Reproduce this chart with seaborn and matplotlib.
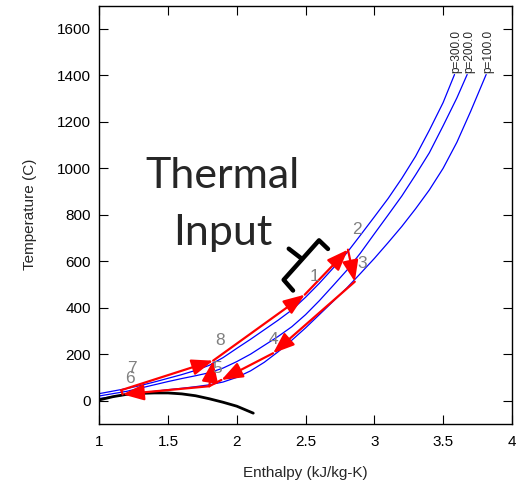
import matplotlib
matplotlib.use("Agg")
import matplotlib.pyplot as plt
import pandas as pd
import seaborn as sns

# isobars (x axis is labelled "Enthalpy" in the original)
s_p300 = [1.0, 1.1, 1.2, 1.3, 1.4, 1.5, 1.6, 1.7, 1.8, 1.9, 2.0, 2.1, 2.2, 2.3, 2.4,
          2.5, 2.6, 2.7, 2.8, 2.9, 3.0, 3.1, 3.2, 3.3, 3.4, 3.5, 3.583]
T_p300 = [30, 41, 52, 65, 80, 96, 112, 130, 152, 185, 225, 264, 305, 346, 390,
          445, 505, 570, 636, 713, 791, 870, 957, 1052, 1164, 1283, 1404]

s_p200 = [1.0, 1.1, 1.2, 1.3, 1.4, 1.5, 1.6, 1.7, 1.8, 1.9, 2.0, 2.1, 2.2, 2.3, 2.4,
          2.5, 2.6, 2.7, 2.8, 2.9, 3.0, 3.1, 3.2, 3.3, 3.4, 3.5, 3.6, 3.675]
T_p200 = [20, 30, 40, 54, 68, 82, 95, 107, 120, 140, 168, 200, 238, 276, 318,
          370, 430, 495, 561, 636, 718, 799, 881, 972, 1067, 1183, 1303, 1404]

s_p100 = [1.0, 1.1, 1.2, 1.3, 1.4, 1.5, 1.6, 1.7, 1.8, 1.9, 2.0, 2.1, 2.2, 2.3, 2.4,
          2.5, 2.6, 2.7, 2.8, 2.9, 3.0, 3.1, 3.2, 3.3, 3.4, 3.5, 3.6, 3.7, 3.813]
T_p100 = [9, 17, 25, 33, 40, 47, 53, 60, 68, 80, 100, 128, 165, 210, 260,
          313, 370, 427, 485, 548, 612, 680, 750, 826, 907, 1000, 1112, 1245, 1404]

isobar_names = ["p=300.0", "p=200.0", "p=100.0"]

# saturation line
dome_s = [1.0, 1.1, 1.2, 1.3, 1.4, 1.5, 1.6, 1.7, 1.8, 1.9, 2.0, 2.12]
dome_T = [3, 17, 27, 31, 33, 33, 29, 21, 8, -7, -24, -54]

# cycle state points
state_names = ["1", "2", "3", "4", "5", "6", "7", "8"]
state_s = [2.494, 2.808, 2.858, 2.264, 1.80, 1.17, 1.16, 1.828]
state_T = [456, 650, 512, 204, 62, 27, 45, 172]

# (from, to, where the arrow tip sits along the segment)
cycle_legs = [("1", "2", 1.0), ("2", "3", 1.0), ("3", "4", 1.0), ("4", "5", 0.81),
              ("5", "6", 1.0), ("6", "7", None), ("7", "8", 1.0), ("8", "1", 1.0),
              ("5", "8", 1.0)]

# state label positions
label_s = [2.567, 2.874, 2.913, 2.269, 1.857, 1.223, 1.235, 1.882]
label_T = [534, 736, 592, 262, 140, 96, 140, 259]

# bracket next to "Thermal Input"
brace_s = [2.663, 2.598, 2.341, 2.409]
brace_T = [653, 690, 520, 474]
stub_s = [2.472, 2.378]
stub_T = [611, 654]

sns.set_style("ticks")
plt.rcParams["font.family"] = ["Liberation Sans", "DejaVu Sans"]

iso = pd.concat([
    pd.DataFrame({"s": s, "T": t, "p": name})
    for s, t, name in zip([s_p300, s_p200, s_p100], [T_p300, T_p200, T_p100], isobar_names)
])
dome = pd.DataFrame({"s": dome_s, "T": dome_T})

fig = plt.figure(figsize=(5.25, 4.8), dpi=100)
ax = fig.add_axes([0.189, 0.117, 0.786, 0.871])

sns.lineplot(data=iso, x="s", y="T", hue="p", palette=["#0000ff"] * 3,
             sort=False, estimator=None, lw=0.9, legend=False, ax=ax)
sns.lineplot(data=dome, x="s", y="T", color="black", lw=2,
             sort=False, estimator=None, ax=ax)

for s, t, name in zip([s_p300[-1], s_p200[-1], s_p100[-1]],
                      [T_p300[-1], T_p200[-1], T_p100[-1]], isobar_names):
    ax.annotate(name, (s, t), xytext=(1.5, 1), textcoords="offset points",
                rotation=90, ha="center", va="bottom", fontsize=8.5)

pts = {n: (x, y) for n, x, y in zip(state_names, state_s, state_T)}
head = "-|>,head_length=1.0,head_width=0.38"
for a, b, frac in cycle_legs:
    (x0, y0), (x1, y1) = pts[a], pts[b]
    if frac is None:
        ax.plot([x0, x1], [y0, y1], color="red", lw=1.6)
        continue
    tip = (x0 + frac * (x1 - x0), y0 + frac * (y1 - y0))
    ax.annotate("", xy=tip, xytext=(x0, y0),
                arrowprops=dict(arrowstyle=head, color="red", lw=1.6,
                                mutation_scale=13, shrinkA=0, shrinkB=0))
    if frac < 1:
        ax.plot([tip[0], x1], [tip[1], y1], color="red", lw=1.6)

for n, x, y in zip(state_names, label_s, label_T):
    ax.text(x, y, n, color="#808080", fontsize=12.5, ha="center", va="center")

ax.plot(brace_s, brace_T, color="black", lw=3.2, solid_capstyle="round",
        solid_joinstyle="round")
ax.plot(stub_s, stub_T, color="black", lw=3.2, solid_capstyle="round")

ax.text(1.895, 917, "Thermal", fontsize=31, family=["Lato", "DejaVu Sans"],
        ha="center", va="baseline")
ax.text(1.895, 671, "Input", fontsize=31, family=["Lato", "DejaVu Sans"],
        ha="center", va="baseline")

ax.set_xlim(1, 4)
ax.set_ylim(-100, 1700)
ax.set_xticks([1, 1.5, 2, 2.5, 3, 3.5, 4])
ax.set_xticklabels(["1", "1.5", "2", "2.5", "3", "3.5", "4"])
ax.set_yticks(range(0, 1601, 200))
ax.tick_params(direction="in", length=6.5, width=0.8, top=True, right=True,
               labelsize=11, colors="black")
ax.tick_params(axis="x", pad=8)
ax.tick_params(axis="y", pad=6)
for sp in ax.spines.values():
    sp.set_visible(True)
    sp.set_color("black")
    sp.set_linewidth(1.0)
ax.set_xlabel("Enthalpy (kJ/kg-K)", fontsize=11, labelpad=12)
ax.set_ylabel("Temperature (C)", fontsize=11, labelpad=14)

fig.savefig("out.png", dpi=100)
